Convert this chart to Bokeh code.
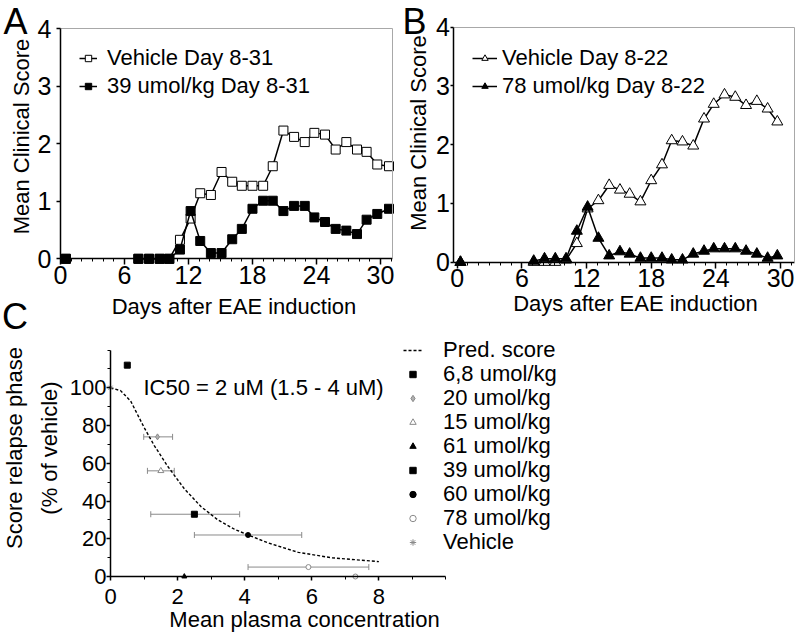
from bokeh.plotting import figure
from bokeh.models import (Legend, LegendItem, Label, Whisker, ColumnDataSource,
                          FixedTicker, Range1d, TeeHead, LinearAxis)
from bokeh.layouts import column, row
from bokeh.embed import file_html
from bokeh.resources import INLINE

FONT = "Liberation Sans"
GRAY = "#8a8a8a"
BOX = "#a8a8a8"

# ---------------- Panel A data ----------------
days_a = [0.5, 7.3, 8.3, 9.3, 10.2, 11.2, 12.2, 13.1, 14.1, 15.1, 16.1, 17.0, 18.0,
          19.0, 19.9, 20.9, 21.9, 22.9, 23.8, 24.8, 25.8, 26.8, 27.8, 28.7, 29.7, 30.8]
vehicle_a = [0, 0, 0, 0, 0, 0.33, 0.70, 1.14, 1.11, 1.51, 1.34, 1.27, 1.27,
             1.27, 1.61, 2.23, 2.12, 2.03, 2.19, 2.16, 1.90, 2.03, 1.90, 1.86, 1.64, 1.61]
dose39_a = [0, 0, 0, 0, 0, 0.16, 0.83, 0.31, 0.10, 0.10, 0.34, 0.52, 0.87,
            1.01, 1.01, 0.83, 0.92, 0.92, 0.72, 0.64, 0.52, 0.49, 0.43, 0.68, 0.78, 0.87]

# ---------------- Panel B data ----------------
days_b = [0.3, 7.1, 8.1, 9.1, 10.1, 11.1, 12.1, 13.1, 14.1, 15.1, 16.0, 17.0, 18.0,
          19.0, 19.9, 20.9, 21.9, 22.9, 23.8, 24.8, 25.8, 26.8, 27.8, 28.8, 29.7]
vehicle_b = [0, 0, 0, 0, 0.04, 0.32, 0.91, 1.05, 1.31, 1.23, 1.16, 1.03, 1.39,
             1.66, 2.07, 2.05, 1.98, 2.44, 2.69, 2.85, 2.81, 2.67, 2.74, 2.61, 2.39]
dose78_b = [0, 0.02, 0.06, 0.06, 0.06, 0.53, 0.94, 0.41, 0.11, 0.18, 0.14, 0.07, 0.07,
            0.07, 0.04, 0.04, 0.14, 0.19, 0.23, 0.23, 0.23, 0.19, 0.14, 0.07, 0.11]

day_ticks = [0, 6, 12, 18, 24, 30]
day_minor = list(range(0, 32))
score_ticks = [0, 1, 2, 3, 4]

# ---------------- Panel C data ----------------
curve_x = [0, 0.3, 0.6, 1.0, 1.3, 1.7, 2.2, 2.7, 3.2, 3.7, 4.1, 4.7, 5.6, 6.6, 8.0]
curve_y = [100, 98.5, 93, 79, 69.5, 58.5, 46.5, 37, 30, 25, 22, 17.8, 12.8, 9.9, 7.9]

c_labels = ["6,8 umol/kg", "20 umol/kg", "15 umol/kg", "61 umol/kg",
            "39 umol/kg", "60 umol/kg", "78 umol/kg", "Vehicle"]
c_conc = [[0.5], [1.4], [1.5], [2.2], [2.5], [4.1], [5.9, 7.3], [0.0]]
c_score = [[112], [74], [56], [0], [33], [22], [5, 0], [100]]

err_score = [74, 56, 33, 22, 5]
err_lo = [0.99, 1.1, 1.2, 2.5, 4.1]
err_hi = [1.85, 1.9, 3.85, 5.7, 7.7]

c_ticks_x = [0, 2, 4, 6, 8]
c_minor_x = list(range(0, 11))
c_ticks_y = [0, 20, 40, 60, 80, 100]
c_minor_y = list(range(0, 121, 10))

c_marker = ["square", "diamond", "triangle", "triangle", "square", "circle", "circle", "asterisk"]
c_line = ["black", GRAY, GRAY, "black", "black", "black", GRAY, GRAY]
c_fill = ["black", "#b0b0b0", "white", "black", "black", "black", "white", None]
c_size = [6, 6, 6, 5, 6, 5, 5, 6]

TOP_H = 337          # height of the A/B row
C_H = 633 - TOP_H    # height of panel C


def base_fig(width, height, xr, yr):
    p = figure(width=width, height=height, x_range=Range1d(*xr), y_range=Range1d(*yr),
               output_backend="svg", toolbar_location=None, title=None, min_border=0)
    p.grid.visible = False
    p.outline_line_color = None
    p.background_fill_color = "white"
    p.border_fill_color = "white"
    return p


def style_axis(ax, tick_px):
    ax.axis_line_color = "black"
    ax.axis_line_width = 1.5
    ax.major_tick_line_color = "black"
    ax.major_tick_line_width = 1.5
    ax.minor_tick_line_color = "black"
    ax.minor_tick_line_width = 1
    ax.major_tick_in = 0
    ax.minor_tick_in = 0
    ax.major_label_text_font = FONT
    ax.major_label_text_font_size = tick_px
    ax.major_label_text_color = "black"


def line_axis(p, side, loc, bounds):
    ax = LinearAxis(fixed_location=loc, bounds=bounds, ticker=FixedTicker(ticks=[]),
                    axis_line_color=BOX, axis_line_width=1,
                    major_tick_line_color=None, minor_tick_line_color=None,
                    major_tick_out=0, minor_tick_out=0, major_label_standoff=0)
    p.add_layout(ax, side)


def title_axis(p, side, loc, center, text, standoff, line_height=1.2):
    ax = LinearAxis(fixed_location=loc, bounds=(center - 0.5, center + 0.5),
                    ticker=FixedTicker(ticks=[]), axis_line_color=None,
                    major_tick_line_color=None, minor_tick_line_color=None,
                    major_tick_out=0, minor_tick_out=0, major_tick_in=0, minor_tick_in=0,
                    major_label_standoff=0, axis_label=text, axis_label_standoff=standoff,
                    axis_label_text_font=FONT, axis_label_text_font_size="22px",
                    axis_label_text_font_style="normal", axis_label_text_color="black",
                    axis_label_text_line_height=line_height)
    p.add_layout(ax, side)


def letter(p, text, x, y):
    p.add_layout(Label(x=x, y=y, x_units="screen", y_units="screen", text=text,
                       text_font=FONT, text_font_size="36px", text_align="center",
                       text_baseline="alphabetic", text_color="black"))


def legend_box(items, loc, glyph_w, standoff, spacing=0):
    return Legend(items=items, location=loc, border_line_color=None,
                  background_fill_alpha=0, padding=0, margin=0, spacing=spacing,
                  glyph_width=glyph_w, glyph_height=16, label_height=16,
                  label_standoff=standoff, label_text_font=FONT,
                  label_text_font_size="22px", label_text_color="black")


def time_panel(xr, yr, x_left, x_right, days, veh, drug, marker, vsize, labels,
               leg_loc, glyph_w, standoff, y_tick_out, y_label_standoff,
               xt_center, xt_standoff, yt_center, yt_standoff):
    p = base_fig(398, TOP_H, xr, yr)
    xa, ya = p.xaxis[0], p.yaxis[0]
    style_axis(xa, "25px")
    style_axis(ya, "25px")
    xa.fixed_location = 0
    xa.bounds = (x_left, x_right)
    ya.fixed_location = x_left
    ya.bounds = (0, 4)
    xa.ticker = FixedTicker(ticks=day_ticks, minor_ticks=day_minor)
    ya.ticker = FixedTicker(ticks=score_ticks, minor_ticks=[])
    xa.major_tick_out = 6
    xa.minor_tick_out = 3
    xa.major_label_standoff = 1
    ya.major_tick_out = y_tick_out
    ya.minor_tick_out = 0
    ya.major_label_standoff = y_label_standoff
    line_axis(p, "above", 4, (x_left, x_right))
    line_axis(p, "right", x_right, (0, 4))
    title_axis(p, "below", 0, xt_center, "Days after EAE induction", xt_standoff)
    title_axis(p, "left", x_left, yt_center, "Mean Clinical Score", yt_standoff)

    rv = [p.line(days[1:], veh[1:], line_color="black", line_width=1.5),
          p.scatter(days, veh, marker=marker, size=vsize, fill_color="white",
                    line_color="black", line_width=1)]
    rd = [p.line(days[1:], drug[1:], line_color="black", line_width=1.5),
          p.scatter(days, drug, marker=marker, size=vsize, fill_color="black",
                    line_color="black", line_width=1)]
    p.add_layout(legend_box([LegendItem(label=labels[0], renderers=rv),
                             LegendItem(label=labels[1], renderers=rd)],
                            leg_loc, glyph_w, standoff, spacing=2))
    return p


A_ybot = -(TOP_H - 258.3) / 57.5
pA = time_panel((-5.625, 31.69), (A_ybot, 4.492), 0, 31.09, days_a, vehicle_a, dose39_a,
                "square", 9, ["Vehicle Day 8-31", "39 umol/kg Day 8-31"],
                (79, TOP_H - 99), 18, 10, 4, 5, 16.27, 35, 2.127, 27)
letter(pA, "A", 15, TOP_H - 21)
letter(pA, "C", 14.5, TOP_H - 316)

B_ybot = -(TOP_H - 261.7) / 58.75
pB = time_panel((-5.447, 31.48), (B_ybot, 4.454), -0.316, 31.3, days_b, vehicle_b, dose78_b,
                "triangle", 11, ["Vehicle Day 8-22", "78 umol/kg Day 8-22"],
                (74, TOP_H - 99), 25, 5, 3, 1, 16.54, 28, 2.2, 23)
letter(pB, "B", 16, TOP_H - 21)

# ---------------- Panel C ----------------
pC = base_fig(796, C_H, (-3.28, 20.45), (-30.2, (576 - TOP_H) / 1.887))
xc, yc = pC.xaxis[0], pC.yaxis[0]
style_axis(xc, "22px")
style_axis(yc, "22px")
xc.fixed_location = 0
xc.bounds = (0, 10)
yc.fixed_location = 0
yc.bounds = (0, 120)
xc.ticker = FixedTicker(ticks=c_ticks_x, minor_ticks=c_minor_x)
yc.ticker = FixedTicker(ticks=c_ticks_y, minor_ticks=c_minor_y)
xc.major_tick_out = 4
xc.minor_tick_out = 3
yc.major_tick_out = 4
yc.minor_tick_out = 3
xc.major_label_standoff = 8
yc.major_label_standoff = 0
title_axis(pC, "below", 0, 5.78, "Mean plasma concentration", 30)
title_axis(pC, "left", 0, 68.1, "Score relapse phase\n(% of vehicle)", 49, 1.4)

src_err = ColumnDataSource(dict(base=err_score, lower=err_lo, upper=err_hi))
pC.add_layout(Whisker(source=src_err, base="base", lower="lower", upper="upper",
                      dimension="width", line_color=GRAY, line_width=1,
                      upper_head=TeeHead(size=6, line_color=GRAY, line_width=1),
                      lower_head=TeeHead(size=6, line_color=GRAY, line_width=1)))

rc = pC.line(curve_x, curve_y, line_dash="3 2", line_color="black", line_width=1.4)
items = [LegendItem(label="Pred. score", renderers=[rc])]
for i, lab in enumerate(c_labels):
    r = pC.scatter(c_conc[i], c_score[i], marker=c_marker[i], size=c_size[i],
                   line_color=c_line[i], fill_color=c_fill[i], line_width=1)
    items.append(LegendItem(label=lab, renderers=[r]))

# one legend box per row so the rows can sit 24 px apart
for k, it in enumerate(items):
    row_center = 349.5 + 24.0 * k
    pC.add_layout(legend_box([it], (403, 633 - row_center - 13), 19, 21))

pC.add_layout(Label(x=0.98, y=100, text="IC50 = 2 uM (1.5 - 4 uM)", text_font=FONT,
                    text_font_size="22px", text_baseline="middle", text_color="black"))

layout = column(row(pA, pB), pC)
open("out.html", "w").write(file_html(layout, INLINE))
